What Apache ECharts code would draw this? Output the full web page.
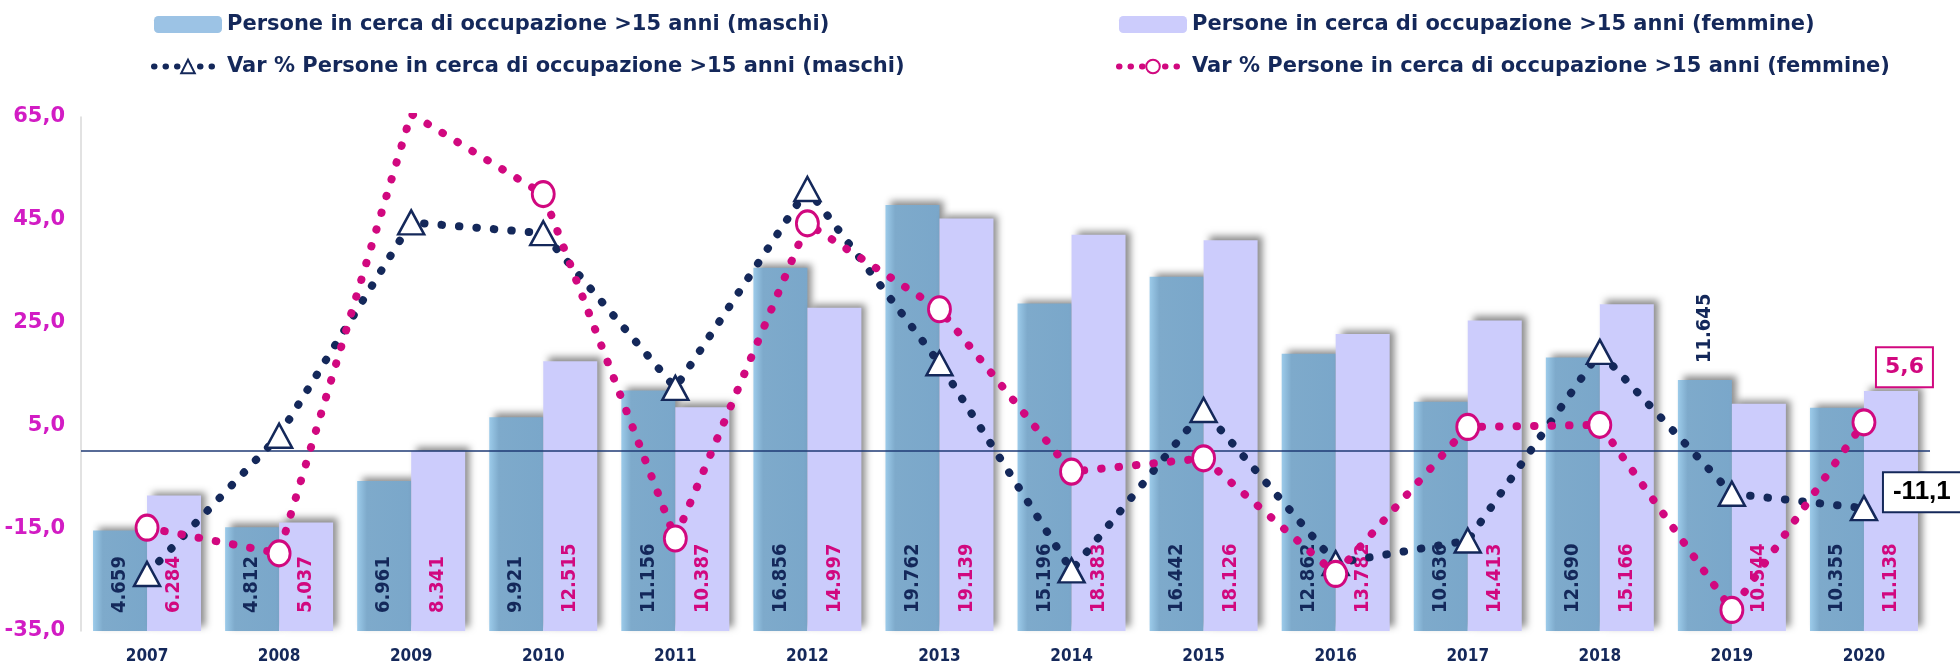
<!DOCTYPE html>
<html>
<head>
<meta charset="utf-8">
<script src="https://cdn.jsdelivr.net/npm/echarts@6/dist/echarts.min.js"></script>
<style>
  html, body { margin: 0; padding: 0; background: #fff; }
  #chart { width: 1960px; height: 670px; }
</style>
</head>
<body>
<div id="chart"></div>
<script>
var years = ['2007', '2008', '2009', '2010', '2011', '2012', '2013', '2014', '2015', '2016', '2017', '2018', '2019', '2020'];
var maschi = [4659, 4812, 6961, 9921, 11156, 16856, 19762, 15196, 16442, 12862, 10636, 12690, 11645, 10355];
var femmine = [6284, 5037, 8341, 12515, 10387, 14997, 19139, 18383, 18126, 13782, 14413, 15166, 10544, 11138];
var varMaschi = [-23.9, 3.0, 44.5, 42.4, 12.3, 51.0, 17.1, -23.2, 8.0, -21.8, -17.4, 19.3, -8.3, -11.1];
var varFemmine = [-14.9, -19.9, 65.6, 50.0, -17.0, 44.3, 27.6, -4.0, -1.4, -23.9, 4.7, 5.1, -30.9, 5.6];

var NAVY = '#14285a';
var PINK = '#d1087f';
var COND = "'DejaVu Sans Condensed', 'DejaVu Sans', sans-serif";

function migliaia(v) {
    return Math.floor(v / 1000) + '.' + String(v % 1000).padStart(3, '0');
}
function virgola(v) {
    return v.toFixed(1).replace('.', ',');
}

var last = years.length - 1;

// 2019 maschi: etichetta sopra la barra
var maschiData = maschi.map(function(v, i) {
    if (years[i] === '2019') {
        return { value: v, label: { position: 'top', distance: 17 } };
    }
    return v;
});

var varMaschiData = varMaschi.map(function(v, i) {
    if (i === last) {
        return {
            value: v,
            label: {
                show: true, position: 'inside', align: 'left', verticalAlign: 'middle',
                offset: [20, -16],
                formatter: function(p) { return virgola(p.value); },
                color: '#000', fontSize: 26, fontWeight: 'bold', fontFamily: 'Liberation Sans',
                backgroundColor: '#fff', borderColor: NAVY, borderWidth: 2,
                padding: [6, 10, 6, 9]
            }
        };
    }
    return v;
});

var varFemmineData = varFemmine.map(function(v, i) {
    if (i === last) {
        return {
            value: v,
            label: {
                show: true, position: 'inside', align: 'left', verticalAlign: 'middle',
                offset: [13, -55],
                formatter: function(p) { return virgola(p.value); },
                color: PINK, fontSize: 22, fontWeight: 'bold', fontFamily: 'DejaVu Sans',
                backgroundColor: '#fff', borderColor: PINK, borderWidth: 2,
                padding: [8, 8, 8, 8]
            }
        };
    }
    return v;
});

var barLabel = {
    show: true,
    position: 'insideBottom',
    distance: 18,
    rotate: 90,
    align: 'left',
    verticalAlign: 'middle',
    fontSize: 20,
    fontWeight: 'bold',
    fontFamily: COND,
    formatter: function(p) { return migliaia(p.value); }
};

var legendText = { color: NAVY, fontSize: 21, fontWeight: 'bold', fontFamily: 'DejaVu Sans' };
var legendDots = { width: 6, type: [0.5, 11], cap: 'round' };

var chart = echarts.init(document.getElementById('chart'));
chart.setOption({
    animation: false,
    backgroundColor: '#fff',
    legend: [{
        left: 146, top: 9, orient: 'vertical', itemGap: 21,
        itemWidth: 68, itemHeight: 17, selectedMode: false,
        textStyle: legendText,
        data: [
            { name: 'Persone in cerca di occupazione >15 anni (maschi)', itemStyle: { color: '#9cc3e5', shadowBlur: 0, shadowOffsetX: 0, shadowOffsetY: 0 } },
            { name: 'Var % Persone in cerca di occupazione >15 anni (maschi)', lineStyle: Object.assign({ color: NAVY }, legendDots) }
        ]
    }, {
        left: 1111, top: 9, orient: 'vertical', itemGap: 21,
        itemWidth: 68, itemHeight: 17, selectedMode: false,
        textStyle: legendText,
        data: [
            { name: 'Persone in cerca di occupazione >15 anni (femmine)', itemStyle: { color: '#ccccfc', shadowBlur: 0, shadowOffsetX: 0, shadowOffsetY: 0 } },
            { name: 'Var % Persone in cerca di occupazione >15 anni (femmine)', lineStyle: Object.assign({ color: PINK }, legendDots) }
        ]
    }],
    grid: { left: 81, right: 30, top: 117, bottom: 39 },
    xAxis: {
        type: 'category',
        data: years,
        axisLine: { show: false },
        axisTick: { show: false },
        axisLabel: { color: NAVY, fontSize: 17, fontWeight: 'bold', fontFamily: COND, margin: 17 }
    },
    yAxis: [{
        type: 'value',
        min: -35, max: 65, interval: 20,
        axisLine: { show: true, lineStyle: { color: '#d9d9d9', width: 1.5 } },
        axisTick: { show: false },
        splitLine: { show: false },
        axisLabel: {
            color: '#d21cc4', fontSize: 21, fontWeight: 'bold', fontFamily: 'DejaVu Sans', margin: 16,
            formatter: function(v) { return virgola(v); }
        }
    }, {
        type: 'value',
        min: 0, max: 23850,
        show: false,
        splitLine: { show: false }
    }],
    series: [{
        name: 'Persone in cerca di occupazione >15 anni (maschi)',
        type: 'bar',
        yAxisIndex: 1,
        barWidth: 54,
        barGap: '0%',
        data: maschiData,
        itemStyle: {
            color: new echarts.graphic.LinearGradient(0, 0, 1, 0, [
                { offset: 0, color: '#9ccbea' },
                { offset: 0.18, color: '#7eaacb' },
                { offset: 1, color: '#7aa7ca' }
            ]),
            shadowColor: 'rgba(0,0,0,0.45)', shadowBlur: 7, shadowOffsetX: 5, shadowOffsetY: -4
        },
        label: Object.assign({ color: NAVY }, barLabel),
        z: 2
    }, {
        name: 'Persone in cerca di occupazione >15 anni (femmine)',
        type: 'bar',
        yAxisIndex: 1,
        barWidth: 54,
        barGap: '0%',
        data: femmine,
        itemStyle: {
            color: '#ccccfc',
            shadowColor: 'rgba(0,0,0,0.45)', shadowBlur: 7, shadowOffsetX: 5, shadowOffsetY: -4
        },
        label: Object.assign({ color: PINK }, barLabel),
        z: 2
    }, {
        name: 'Var % Persone in cerca di occupazione >15 anni (maschi)',
        type: 'line',
        yAxisIndex: 0,
        data: varMaschiData,
        symbol: 'triangle',
        symbolSize: [26, 24],
        itemStyle: { color: '#fff', borderColor: NAVY, borderWidth: 2.5 },
        lineStyle: { color: NAVY, width: 8, type: [0.5, 17], cap: 'round' },
        markLine: {
            silent: true,
            symbol: 'none',
            label: { show: false },
            lineStyle: { color: '#1f3a75', width: 1.5, type: 'solid' },
            data: [{ yAxis: 0 }]
        },
        z: 5
    }, {
        name: 'Var % Persone in cerca di occupazione >15 anni (femmine)',
        type: 'line',
        yAxisIndex: 0,
        data: varFemmineData,
        symbol: 'circle',
        symbolSize: [22, 25],
        itemStyle: { color: '#fff', borderColor: PINK, borderWidth: 3 },
        lineStyle: { color: PINK, width: 8, type: [0.5, 17], cap: 'round' },
        z: 6
    }]
});
</script>
</body>
</html>
